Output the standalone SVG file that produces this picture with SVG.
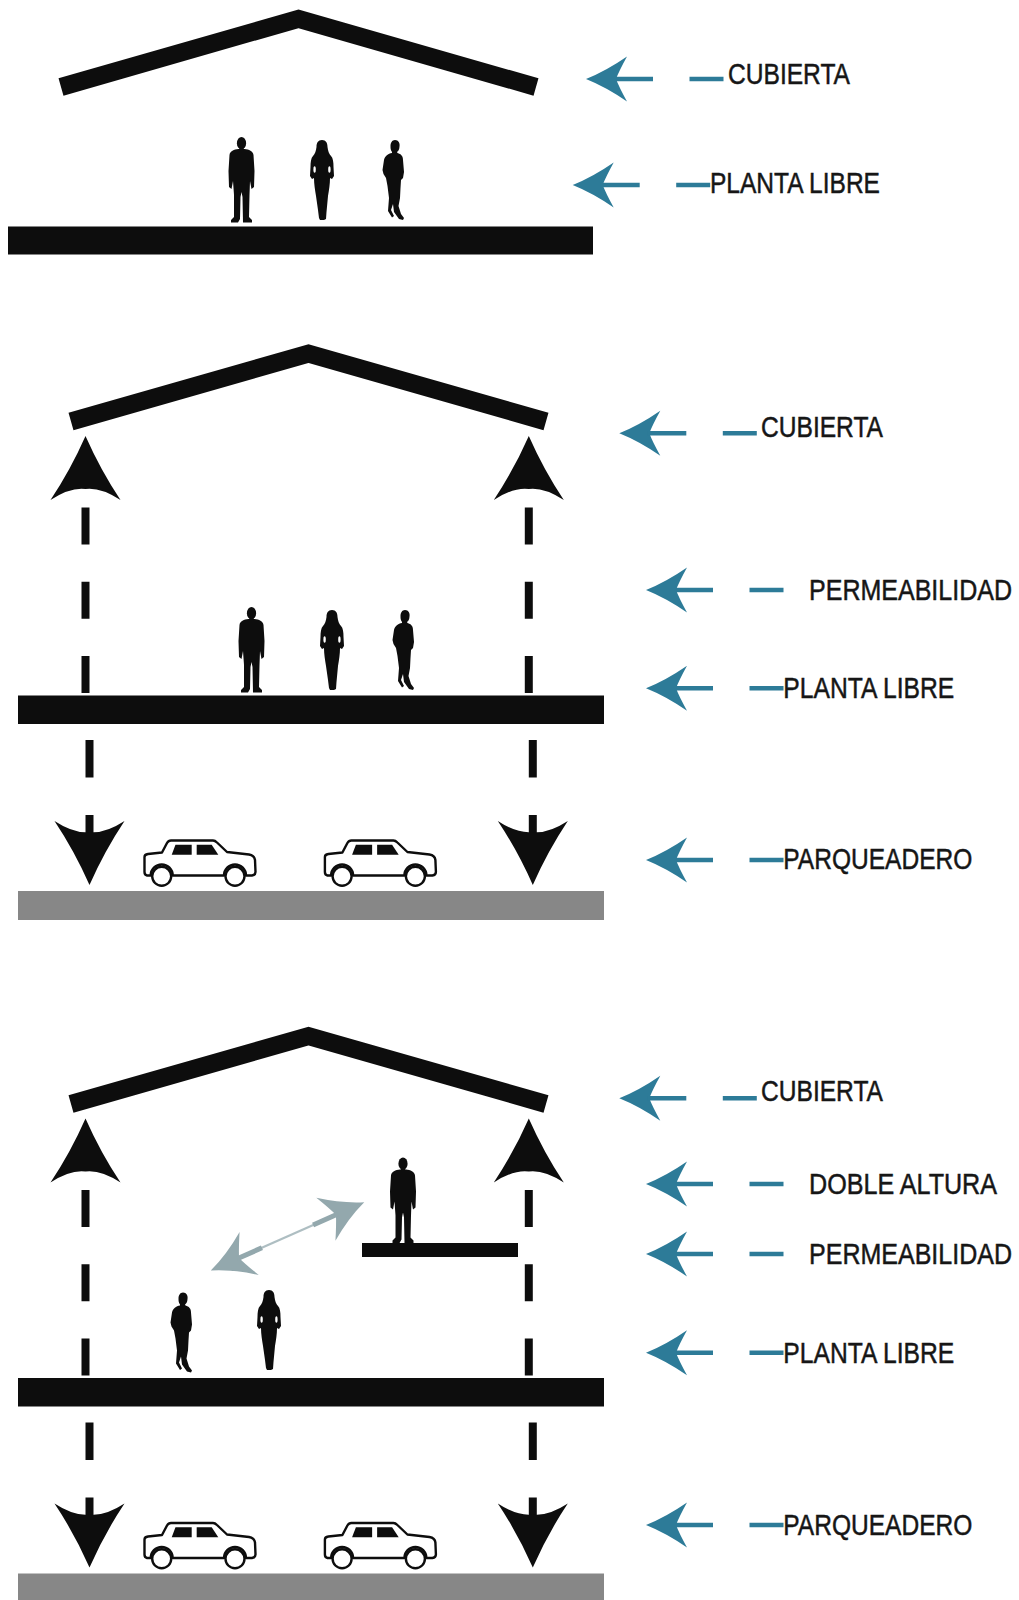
<svg xmlns="http://www.w3.org/2000/svg" width="1019" height="1600" viewBox="0 0 1019 1600">
<style>
  .ink{fill:#0d0d0d}
  .roof{fill:none;stroke:#0d0d0d;stroke-width:18;stroke-linejoin:miter;stroke-miterlimit:10}
  .col{stroke:#0d0d0d;stroke-width:8;fill:none}
  .park{fill:#878787}
  .teal{fill:#2d7b98}
  .tline{stroke:#2d7b98;stroke-width:4.5;fill:none}
  .lbl{font-family:"Liberation Sans",Arial,sans-serif;font-size:30px;fill:#161616;stroke:#161616;stroke-width:0.5}
  .carbody{fill:#fff;stroke:#0d0d0d;stroke-width:2.4;stroke-linejoin:round}
  .mist{fill:#93a8ad}
  .mline{stroke:#93a8ad;fill:none}
</style>
<defs>
  <!-- standing man, front view, box 27 x 86 -->
  <g id="man" class="ink">
    <ellipse cx="13.5" cy="6.2" rx="4.6" ry="6.2"/>
    <rect x="11.3" y="10" width="4.4" height="4"/>
    <path d="M10.5,12 L16.5,12 C21,12.5 25,14 25.5,18 L26.5,34 L26,50 L23.5,52 L22,44 L21.5,58 L21,80 L24,83 L24,85.5 L15,85.5 L14.5,60 L13.5,55 L12.5,60 L12,82 L10,85.5 L3,85.5 L3,83 L6,80 L6,58 L5,44 L3.5,52 L1,50 L0.5,34 L1.5,18 C2,14 6,12.5 10.5,12 Z"/>
  </g>
  <!-- standing woman, box 26 x 80 -->
  <g id="woman">
    <path class="ink" d="M13,0 C17,0 18.5,3 18.5,7 C19,11 20,14 22,16 C24,18 24.5,22 24.5,27 L25,36 L23,39 L21,38 C21,44 20,50 19,56 L17.5,72 L17,79 L15,80 L11,80 L10,78 L9,70 L7,56 C6,50 5,44 5,38 L3,39 L1,36 L1.5,27 C1.5,22 2,18 4,16 C6,14 7,11 7.5,7 C7.5,3 9,0 13,0 Z"/>
    <ellipse cx="5.6" cy="29.5" rx="1.2" ry="3.2" fill="#fff"/>
    <ellipse cx="20.4" cy="29.5" rx="1.2" ry="3.2" fill="#fff"/>
  </g>
  <!-- walking figure, side view, box 24 x 80 -->
  <path id="walker" class="ink" d="M13,0 C16.5,0 18,3 17.5,6.5 C17.5,9.5 16,11.5 15,12 L15.5,13 C19,14 21,16 21,20 L22,32 L21,38 L19,40 L18.5,48 L18,58 L16.5,66 L19,74 L22,78 L21,80 L17,79 L12,72 L11,64 L9,70 L12,76 L10,77.5 L6,71 L7,58 L5.5,46 L4,38 L1.5,34 L0.5,30 L2,20 C3,16 6,13.5 10,13 L10,12 C8.5,10 8.5,8 8.5,6 C8.5,3 10,0 13,0 Z"/>
  <!-- sedan outline, box 115 x 51 -->
  <g id="car">
    <path class="carbody" d="M1.5,21 Q1.5,18.5 5,18 L19,16.5 L24,7 Q25.5,4.5 28,4.5 L70,4.5 Q72,4.5 74,6.5 L84,16 L106,18.5 Q111.5,19.5 112,24 L112.5,36 Q112.5,39 109,39.5 L103,39.5 A11,11 0 0 0 81,39.5 L29.7,39.5 A11,11 0 0 0 7.7,39.5 L4,39.5 Q1.5,39 1.5,36 Z"/>
    <path class="ink" d="M32.5,8.7 L48.7,8.7 L48.7,18.7 L28.7,18.7 Z"/>
    <path class="ink" d="M53.7,8.7 L68.7,8.7 L75.3,18.7 L53.7,18.7 Z"/>
    <circle class="carbody" cx="18.7" cy="40.3" r="9.5"/>
    <circle class="carbody" cx="92" cy="40.3" r="9.5"/>
  </g>
  <!-- heavy arrowheads for the vertical flows -->
  <path id="head-up" class="ink" d="M0,0 Q-15,34 -35,64 Q-15,51 0,53 Q15,51 35,64 Q15,34 0,0 Z"/>
  <path id="head-down" class="ink" d="M0,0 Q-15,-34 -35,-64 Q-15,-51 0,-53 Q15,-51 35,-64 Q15,-34 0,0 Z"/>
  <!-- callout pointer: head at origin pointing left, shaft and tick -->
  <g id="callout">
    <path class="teal" d="M0,0 Q20,-8 41,-22.5 Q33,-8 30,0 Q33,8 41,22.5 Q20,8 0,0 Z"/>
    <line class="tline" x1="28" y1="0" x2="67" y2="0"/>
    <line class="tline" x1="103.5" y1="0" x2="137.5" y2="0"/>
  </g>
</defs>

<rect width="1019" height="1600" fill="#fff"/>

<!-- Section 1: roof over open floor -->
<g id="section-1">
  <polyline id="s1-roof" class="roof" points="61,87 298.5,18.8 536,87"/>
  <rect id="s1-slab" class="ink" x="8" y="226.5" width="585" height="28"/>
  <g id="s1-people">
    <use href="#man" x="228" y="137"/>
    <use href="#woman" x="309" y="140"/>
    <use href="#walker" x="382" y="140"/>
  </g>
</g>

<!-- Section 2: roof, open floor and parking below -->
<g id="section-2">
  <polyline id="s2-roof" class="roof" points="71,421.5 308.5,353.5 546,421.5"/>
  <rect id="s2-slab" class="ink" x="18" y="695.5" width="586" height="28.5"/>
  <rect id="s2-parking" class="park" x="18" y="891" width="586" height="29"/>
  <g id="s2-people">
    <use href="#man" x="238" y="607"/>
    <use href="#woman" x="319" y="610"/>
    <use href="#walker" x="392" y="610"/>
  </g>
  <g id="s2-cars">
    <use href="#car" x="143" y="836"/>
    <use href="#car" x="323.4" y="836"/>
  </g>
</g>

<!-- Section 3: double height with mezzanine -->
<g id="section-3">
  <polyline id="s3-roof" class="roof" points="71,1104 308.5,1036 546,1104"/>
  <rect id="s3-slab" class="ink" x="18" y="1378" width="586" height="28.5"/>
  <rect id="s3-mezzanine" class="ink" x="362" y="1243" width="156" height="14"/>
  <rect id="s3-parking" class="park" x="18" y="1573.5" width="586" height="30"/>
  <g id="s3-people">
    <use href="#man" x="389.5" y="1157.5"/>
    <use href="#walker" x="170" y="1292.5"/>
    <use href="#woman" x="256" y="1290"/>
  </g>
  <g id="s3-cars">
    <use href="#car" x="143" y="1518.5"/>
    <use href="#car" x="323.4" y="1518.5"/>
  </g>
</g>

<!-- Connectors: vertical flows, visual link and callout pointers -->
<g id="connectors">
  <g id="s2-flows">
    <use href="#head-up" x="85.5" y="436"/>
    <line class="col" x1="85.5" y1="507.5" x2="85.5" y2="694" stroke-dasharray="37 37.3"/>
    <line class="col" x1="89.5" y1="740" x2="89.5" y2="777.5"/>
    <line class="col" x1="89.5" y1="815" x2="89.5" y2="834"/>
    <use href="#head-down" x="89.5" y="885"/>
    <use href="#head-up" x="528.8" y="436"/>
    <line class="col" x1="528.8" y1="507.5" x2="528.8" y2="694" stroke-dasharray="37 37.3"/>
    <line class="col" x1="532.8" y1="740" x2="532.8" y2="777.5"/>
    <line class="col" x1="532.8" y1="815" x2="532.8" y2="834"/>
    <use href="#head-down" x="532.8" y="885"/>
  </g>
  <g id="s3-flows" transform="translate(0,682.5)">
    <use href="#head-up" x="85.5" y="436"/>
    <line class="col" x1="85.5" y1="507.5" x2="85.5" y2="694" stroke-dasharray="37 37.3"/>
    <line class="col" x1="89.5" y1="740" x2="89.5" y2="777.5"/>
    <line class="col" x1="89.5" y1="815" x2="89.5" y2="834"/>
    <use href="#head-down" x="89.5" y="885"/>
    <use href="#head-up" x="528.8" y="436"/>
    <line class="col" x1="528.8" y1="507.5" x2="528.8" y2="694" stroke-dasharray="37 37.3"/>
    <line class="col" x1="532.8" y1="740" x2="532.8" y2="777.5"/>
    <line class="col" x1="532.8" y1="815" x2="532.8" y2="834"/>
    <use href="#head-down" x="532.8" y="885"/>
  </g>
  <g id="s3-link" transform="translate(287.5,1236.4) rotate(-24)">
    <path class="mist" d="M84,0 Q63,-8 42,-23.5 Q50,-8 53,0 Q50,8 42,23.5 Q63,8 84,0 Z"/>
    <path class="mist" d="M-84,0 Q-63,-8 -42,-23.5 Q-50,-8 -53,0 Q-50,8 -42,23.5 Q-63,8 -84,0 Z"/>
    <line class="mline" x1="-30" y1="0" x2="30" y2="0" stroke-width="2.2" opacity="0.75"/>
    <line class="mline" x1="-55" y1="0" x2="-28" y2="0" stroke-width="5"/>
    <line class="mline" x1="28" y1="0" x2="55" y2="0" stroke-width="5"/>
  </g>
  <g id="callouts">
    <use href="#callout" x="586" y="79"/>
    <use href="#callout" x="572.7" y="185"/>
    <use href="#callout" x="619.3" y="433.3"/>
    <use href="#callout" x="646" y="590"/>
    <use href="#callout" x="646" y="688.3"/>
    <use href="#callout" x="646" y="860"/>
    <use href="#callout" x="619.3" y="1098.3"/>
    <use href="#callout" x="646" y="1184"/>
    <use href="#callout" x="646" y="1254"/>
    <use href="#callout" x="646" y="1352.7"/>
    <use href="#callout" x="646" y="1525"/>
  </g>
</g>

<!-- Labels: condensed horizontally to the printed widths -->
<g id="labels">
  <text class="lbl" transform="translate(728,83.5) scale(0.82,1)" textLength="148.8" lengthAdjust="spacingAndGlyphs">CUBIERTA</text>
  <text class="lbl" transform="translate(710,193.3) scale(0.82,1)" textLength="207.3" lengthAdjust="spacingAndGlyphs">PLANTA LIBRE</text>
  <text class="lbl" transform="translate(761,436.7) scale(0.82,1)" textLength="148.8" lengthAdjust="spacingAndGlyphs">CUBIERTA</text>
  <text class="lbl" transform="translate(809,600) scale(0.82,1)" textLength="247.6" lengthAdjust="spacingAndGlyphs">PERMEABILIDAD</text>
  <text class="lbl" transform="translate(783.3,698.3) scale(0.82,1)" textLength="208.5" lengthAdjust="spacingAndGlyphs">PLANTA LIBRE</text>
  <text class="lbl" transform="translate(783.3,869) scale(0.82,1)" textLength="230.5" lengthAdjust="spacingAndGlyphs">PARQUEADERO</text>
  <text class="lbl" transform="translate(761,1101) scale(0.82,1)" textLength="148.8" lengthAdjust="spacingAndGlyphs">CUBIERTA</text>
  <text class="lbl" transform="translate(809,1194.3) scale(0.82,1)" textLength="229.3" lengthAdjust="spacingAndGlyphs">DOBLE ALTURA</text>
  <text class="lbl" transform="translate(809,1264.3) scale(0.82,1)" textLength="247.6" lengthAdjust="spacingAndGlyphs">PERMEABILIDAD</text>
  <text class="lbl" transform="translate(783.3,1362.7) scale(0.82,1)" textLength="208.5" lengthAdjust="spacingAndGlyphs">PLANTA LIBRE</text>
  <text class="lbl" transform="translate(783.3,1535) scale(0.82,1)" textLength="230.5" lengthAdjust="spacingAndGlyphs">PARQUEADERO</text>
</g>
</svg>
